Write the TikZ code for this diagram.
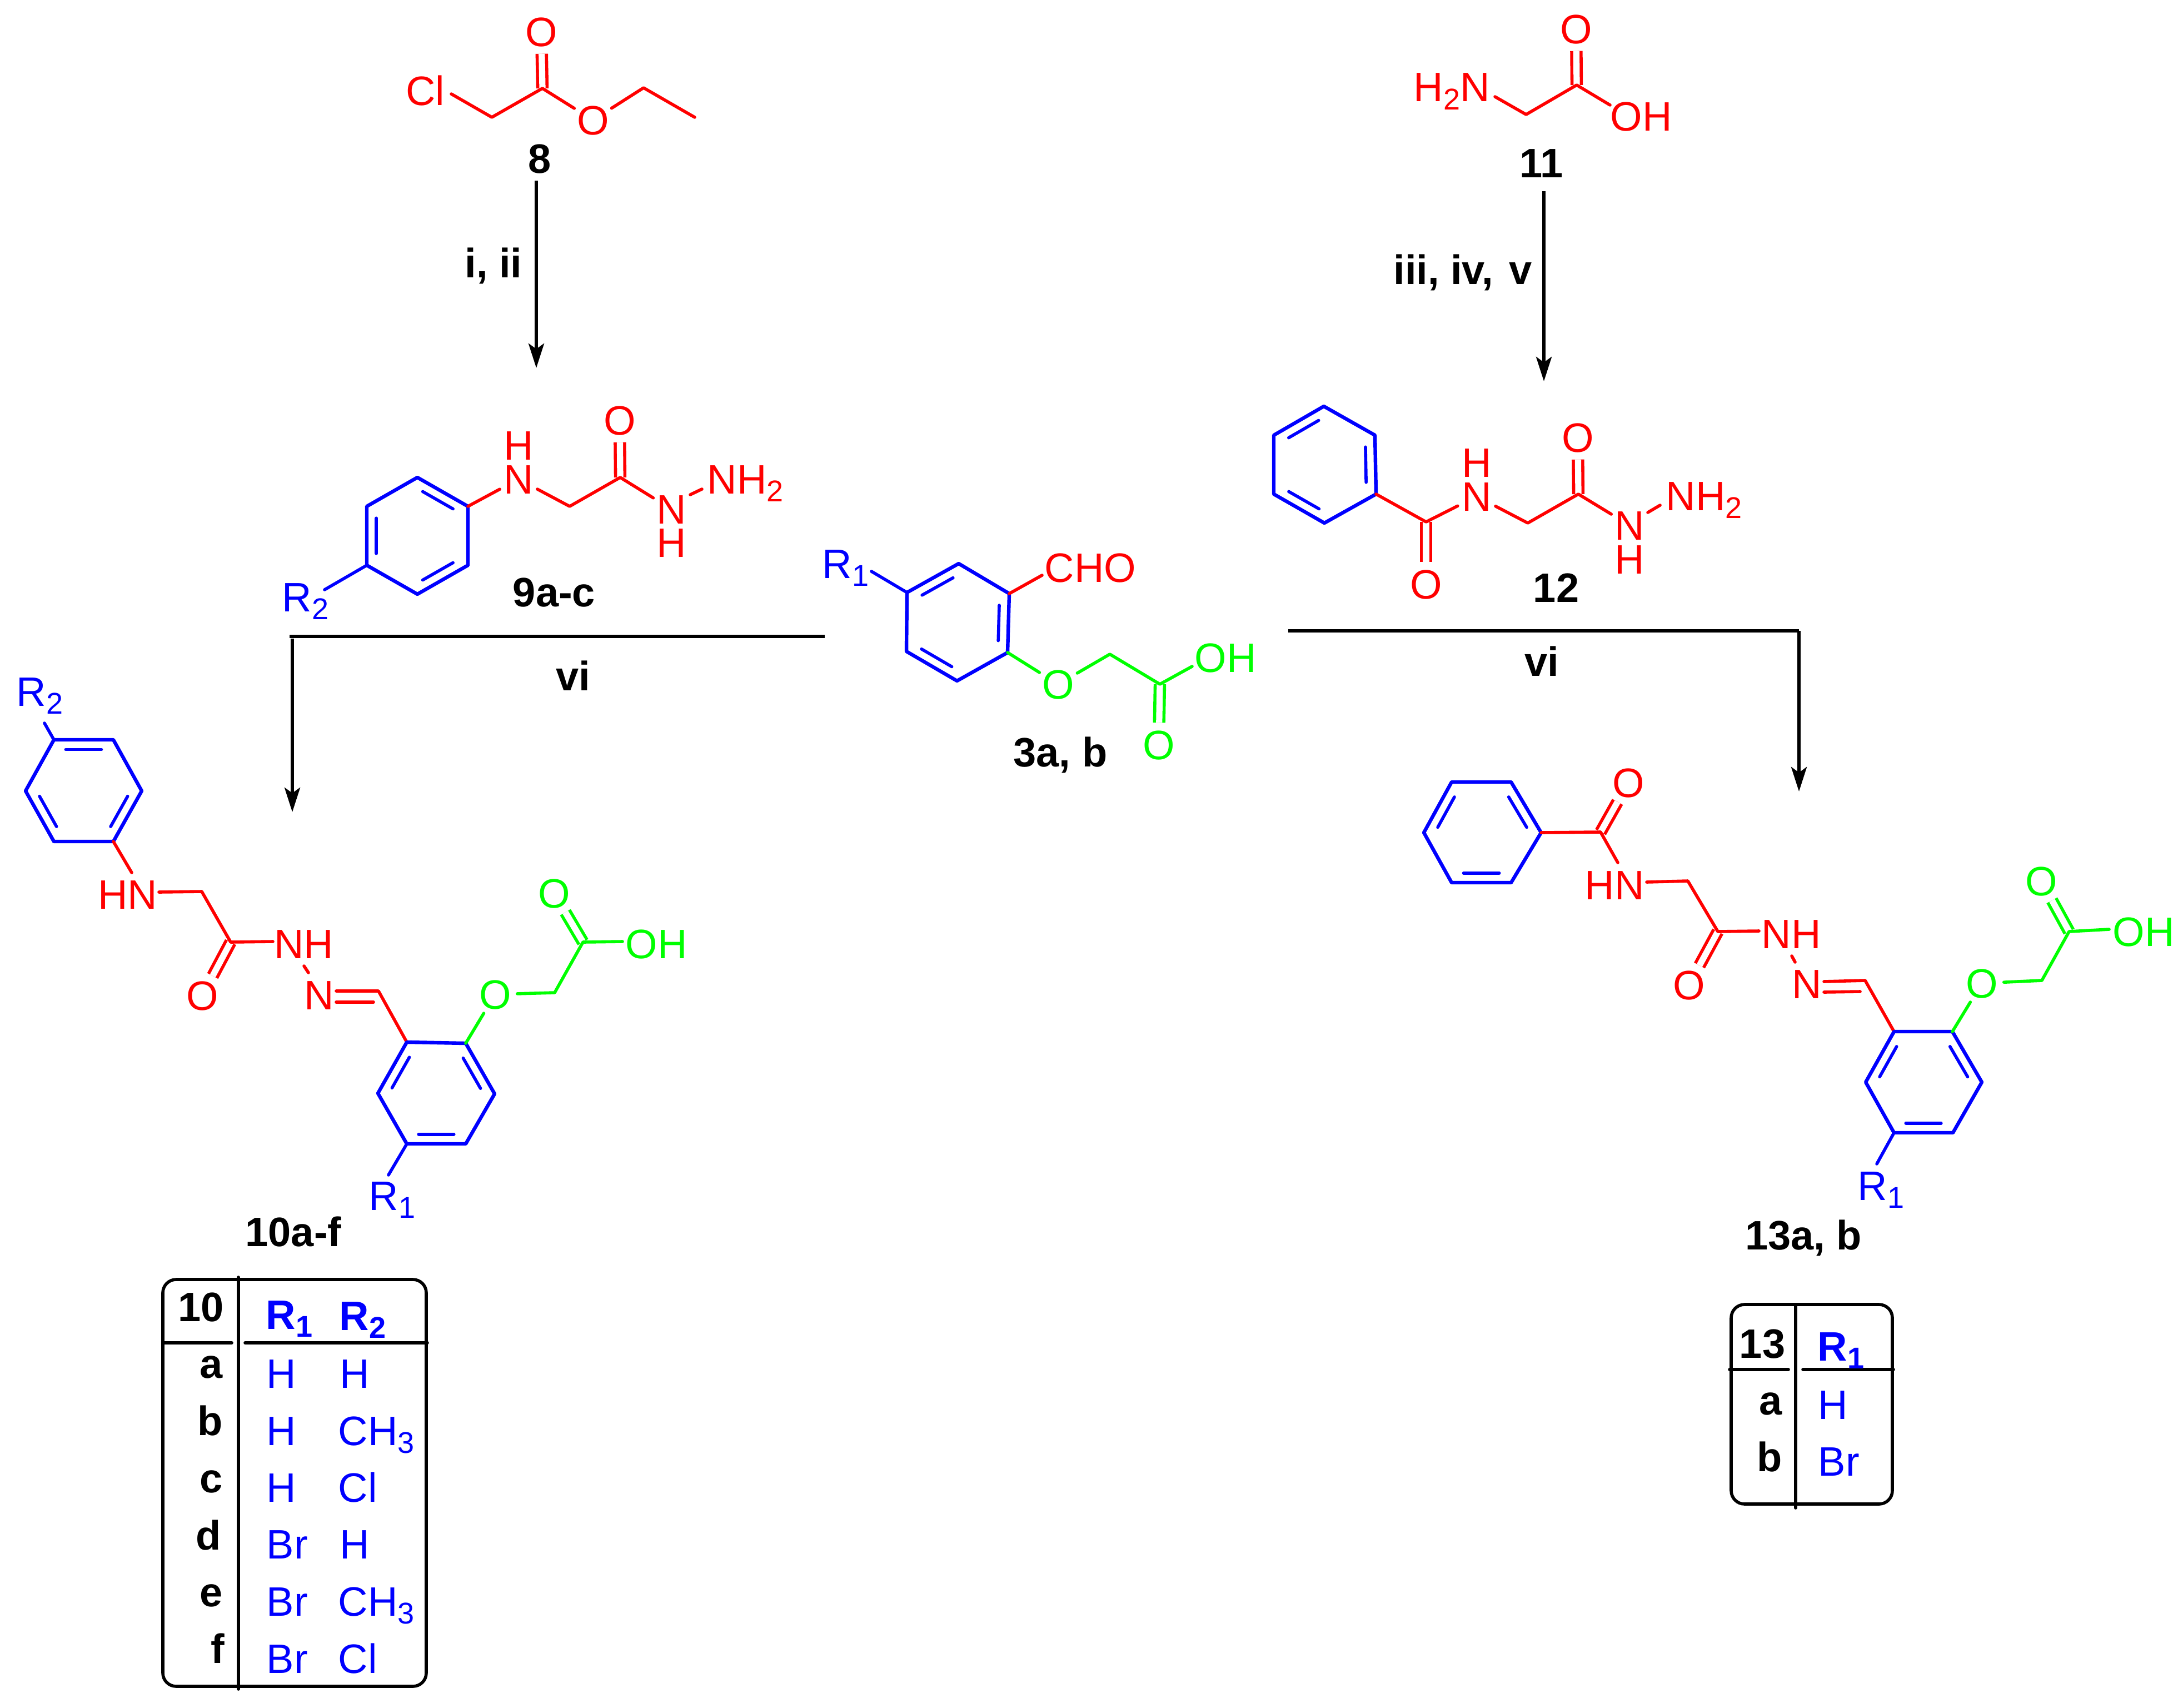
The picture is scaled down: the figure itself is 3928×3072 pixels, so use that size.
\documentclass[tikz,border=0pt]{standalone}
\usepackage{fontspec}
\setmainfont{Liberation Sans}
\usetikzlibrary{arrows.meta,calc}
\newcommand{\chemsub}[1]{\raisebox{-.2em}{\fontsize{13.5}{15}\selectfont #1}}
\newcommand{\ringin}[3]{\draw[innerbond] ($($(#1)!.13!(#2)$)!.19!(#3)$) -- ($($(#2)!.13!(#1)$)!.19!(#3)$);}
\tikzset{
	bond/.style={line width=1.4pt,line cap=round,line join=round},
	ringbond/.style={bond,blue,line width=1.6pt},
	innerbond/.style={bond,blue},
	dbl/.style={line width=1.4pt,double,double distance=2.8pt},
	react/.style={line width=1.4pt,-{Stealth[length=11pt,width=7pt,inset=2.5pt]}},
	plain/.style={line width=1.4pt},
	atom/.style={circle,inner sep=0pt,font=\fontsize{18.5}{22}\selectfont,text height=13.25pt,text depth=0pt},
	chem/.style={inner sep=0pt,font=\fontsize{18.5}{22}\selectfont,text height=13.25pt,text depth=0pt},
	tag/.style={inner sep=0pt,font=\fontsize{18.5}{22}\selectfont\bfseries,text height=13.25pt,text depth=0pt},
	basew/.style={anchor=base west,xshift=-1.25pt}
}
\begin{document}
\begin{tikzpicture}[x=.25pt,y=-.25pt]
	\useasboundingbox (0,0) rectangle (3928,3072);

	% 8
	\node[chem,red] (cl8) at (765,163) {Cl};
	\node[atom,red] (oa8) at (974,57) {O};
	\node[atom,red] (ob8) at (1067,216) {O};
	\coordinate (cl8b) at (812,169);
	\coordinate (ch8) at (885,211);
	\coordinate (c8) at (976,159);
	\coordinate (et8) at (1158,158);
	\coordinate (me8) at (1250,211);
	\draw[dbl,red] (c8) -- (oa8);
	\draw[bond,red] (cl8b) -- (ch8) -- (c8) -- (ob8) -- (et8) -- (me8);
	\node[tag] (n8) at (971,285) {8};
	\coordinate (ar8a) at (965,325);
	\coordinate (ar8b) at (965,662);
	\draw[react] (ar8a) -- (ar8b);
	\node[tag] (cond8) at (888,473) {i, ii};

	% 9a-c
	\draw[ringbond] (751,859) coordinate (a1) -- (842,911) coordinate (a2) -- (842,1017) coordinate (a3) -- (751,1069) coordinate (a4) -- (660,1017) coordinate (a5) -- (660,911) coordinate (a6) -- cycle;
	\coordinate (a0) at (751,964);
	\foreach \p/\q in {a1/a2,a3/a4,a5/a6} {\ringin{\p}{\q}{a0}}
	\node[chem,blue,basew] (r9) at (512,1100) {R\chemsub{2}};
	\coordinate (r9b) at (584,1061);
	\draw[bond,blue] (a5) -- (r9b);
	\node[atom,red] (h9a) at (933,801) {H};
	\node[atom,red] (n9a) at (933,862) {N};
	\node[atom,red] (o9) at (1115,756) {O};
	\node[atom,red] (n9b) at (1208,916) {N};
	\node[atom,red] (h9b) at (1208,976) {H};
	\node[chem,red,basew] (nh9) at (1277,888) {NH\chemsub{2}};
	\coordinate (ch9) at (1025,911);
	\coordinate (c9) at (1116,859);
	\coordinate (n9c) at (1242,890);
	\coordinate (n9d) at (1263,880);
	\draw[dbl,red] (c9) -- (o9);
	\draw[bond,red] (a2) -- (n9a) -- (ch9) -- (c9) -- (n9b);
	\draw[bond,red] (n9c) -- (n9d);
	\node[tag] (n9) at (997,1065) {9a-c};

	% 3a, b
	\draw[ringbond] (1725,1014) coordinate (b1) -- (1816,1068) coordinate (b2) -- (1813,1174) coordinate (b3) -- (1722,1225) coordinate (b4) -- (1631,1172) coordinate (b5) -- (1632,1066) coordinate (b6) -- cycle;
	\coordinate (b0) at (1723,1120);
	\foreach \p/\q in {b6/b1,b2/b3,b4/b5} {\ringin{\p}{\q}{b0}}
	\node[chem,blue,basew] (r3) at (1484,1040) {R\chemsub{1}};
	\coordinate (r3b) at (1568,1028);
	\draw[bond,blue] (b6) -- (r3b);
	\node[chem,red] (cho3) at (1962,1021) {CHO};
	\coordinate (cho3b) at (1875,1035);
	\draw[bond,red] (b2) -- (cho3b);
	\node[atom,green] (oa3) at (1904,1231) {O};
	\node[atom,green] (ob3) at (2085,1340) {O};
	\node[chem,green] (oh3) at (2205,1183) {OH};
	\coordinate (oh3b) at (2145,1199);
	\coordinate (ch3) at (1997,1177);
	\coordinate (c3) at (2087,1231);
	\draw[dbl,green] (c3) -- (ob3);
	\draw[bond,green] (b3) -- (oa3) -- (ch3) -- (c3) -- (oh3b);
	\node[tag] (n3) at (1908,1353) {3a, b};

	% 11
	\node[chem,red,basew] (nh11) at (2548,183) {H\chemsub{2}N};
	\node[atom,red] (o11) at (2836,52) {O};
	\node[chem,red] (oh11) at (2953,209) {OH};
	\coordinate (n11b) at (2690,174);
	\coordinate (ch11) at (2746,206);
	\coordinate (c11) at (2837,153);
	\coordinate (oh11b) at (2897,189);
	\draw[dbl,red] (c11) -- (o11);
	\draw[bond,red] (n11b) -- (ch11) -- (c11) -- (oh11b);
	\node[tag] (n11) at (2774,293) {11};
	\coordinate (ar11a) at (2778,344);
	\coordinate (ar11b) at (2778,686);
	\draw[react] (ar11a) -- (ar11b);
	\node[tag] (cond11) at (2632,485) {iii, iv,\hspace{.38em}v};

	% 12
	\draw[ringbond] (2382,731) coordinate (d1) -- (2474,783) coordinate (d2) -- (2476,889) coordinate (d3) -- (2383,941) coordinate (d4) -- (2292,889) coordinate (d5) -- (2292,783) coordinate (d6) -- cycle;
	\coordinate (d0) at (2383,836);
	\foreach \p/\q in {d6/d1,d2/d3,d4/d5} {\ringin{\p}{\q}{d0}}
	\node[atom,red] (oa12) at (2566,1051) {O};
	\node[atom,red] (n12a) at (2657,893) {N};
	\node[atom,red] (h12a) at (2657,832) {H};
	\node[atom,red] (ob12) at (2839,787) {O};
	\node[atom,red] (n12b) at (2932,945) {N};
	\node[atom,red] (h12b) at (2932,1006) {H};
	\node[chem,red,basew] (nh12) at (3002,918) {NH\chemsub{2}};
	\coordinate (ca12) at (2566,939);
	\coordinate (ch12) at (2749,941);
	\coordinate (cb12) at (2840,889);
	\coordinate (n12c) at (2965,922);
	\coordinate (n12d) at (2987,909);
	\draw[dbl,red] (ca12) -- (oa12);
	\draw[dbl,red] (cb12) -- (ob12);
	\draw[bond,red] (d3) -- (ca12) -- (n12a) -- (ch12) -- (cb12) -- (n12b);
	\draw[bond,red] (n12c) -- (n12d);
	\node[tag] (n12) at (2800,1057) {12};

	% vi, left
	\coordinate (la) at (521,1145);
	\coordinate (lb) at (1484,1145);
	\coordinate (lc) at (526,1149);
	\coordinate (ld) at (526,1461);
	\draw[plain] (la) -- (lb);
	\draw[react] (lc) -- (ld);
	\node[tag] (condl) at (1031,1216) {vi};

	% vi, right
	\coordinate (ra) at (2318,1135);
	\coordinate (rb) at (3237,1135);
	\coordinate (rc) at (3237,1424);
	\draw[plain] (ra) -- (rb);
	\draw[react] (rb) -- (rc);
	\node[tag] (condr) at (2774,1190) {vi};

	% 10a-f
	\draw[ringbond] (97,1331) coordinate (e1) -- (204,1331) coordinate (e2) -- (255,1423) coordinate (e3) -- (204,1514) coordinate (e4) -- (97,1514) coordinate (e5) -- (46,1423) coordinate (e6) -- cycle;
	\coordinate (e0) at (150,1423);
	\foreach \p/\q in {e1/e2,e3/e4,e5/e6} {\ringin{\p}{\q}{e0}}
	\node[chem,blue,basew] (r10b) at (34,1270) {R\chemsub{2}};
	\coordinate (r10bb) at (80,1301);
	\draw[bond,blue] (e1) -- (r10bb);
	\node[chem,red] (hn10) at (230,1609) {HN};
	\node[atom,red] (o10) at (364,1791) {O};
	\node[chem,red] (nh10) at (547,1698) {NH};
	\node[atom,red] (n10) at (574,1790) {N};
	\coordinate (hn10a) at (237,1570);
	\coordinate (hn10b) at (286,1605);
	\coordinate (ch10) at (363,1604);
	\coordinate (c10) at (415,1695);
	\coordinate (nh10b) at (491,1694);
	\coordinate (n10a) at (547,1738);
	\coordinate (n10b) at (555,1750);
	\coordinate (n10c) at (605,1783);
	\coordinate (n10d) at (605,1803);
	\coordinate (n10e) at (672,1803);
	\coordinate (im10) at (681,1783);
	\draw[dbl,red] (c10) -- (o10);
	\draw[bond,red] (e4) -- (hn10a);
	\draw[bond,red] (hn10b) -- (ch10) -- (c10) -- (nh10b);
	\draw[bond,red] (n10a) -- (n10b);
	\draw[bond,red] (n10d) -- (n10e);
	\draw[bond,red] (n10c) -- (im10) -- (732,1875);
	\draw[ringbond] (732,1875) coordinate (f1) -- (838,1877) coordinate (f2) -- (890,1968) coordinate (f3) -- (838,2058) coordinate (f4) -- (732,2058) coordinate (f5) -- (680,1967) coordinate (f6) -- cycle;
	\coordinate (f0) at (785,1967);
	\foreach \p/\q in {f1/f6,f2/f3,f4/f5} {\ringin{\p}{\q}{f0}}
	\node[chem,blue,basew] (r10a) at (668,2177) {R\chemsub{1}};
	\coordinate (r10ab) at (699,2114);
	\draw[bond,blue] (f5) -- (r10ab);
	\node[atom,green] (oa10) at (891,1789) {O};
	\node[atom,green] (ob10) at (997,1607) {O};
	\node[chem,green] (oh10) at (1181,1698) {OH};
	\coordinate (cg10) at (998,1786);
	\coordinate (cc10) at (1049,1695);
	\coordinate (oh10b) at (1120,1694);
	\draw[dbl,green] (cc10) -- (ob10);
	\draw[bond,green] (f2) -- (oa10) -- (cg10) -- (cc10) -- (oh10b);
	\node[tag] (n10) at (528,2216) {10a-f};

	% 13a, b
	\draw[ringbond] (2612,1407) coordinate (g1) -- (2719,1407) coordinate (g2) -- (2773,1498) coordinate (g3) -- (2719,1588) coordinate (g4) -- (2612,1588) coordinate (g5) -- (2562,1498) coordinate (g6) -- cycle;
	\coordinate (g0) at (2666,1498);
	\foreach \p/\q in {g1/g6,g2/g3,g4/g5} {\ringin{\p}{\q}{g0}}
	\node[atom,red] (o13a) at (2930,1408) {O};
	\node[chem,red] (hn13) at (2905,1592) {HN};
	\node[atom,red] (o13b) at (3039,1772) {O};
	\node[chem,red] (nh13) at (3223,1680) {NH};
	\node[atom,red] (n13) at (3251,1770) {N};
	\coordinate (c13a) at (2880,1497);
	\coordinate (hn13a) at (2911,1552);
	\coordinate (hn13b) at (2963,1587);
	\coordinate (ch13) at (3037,1585);
	\coordinate (c13b) at (3091,1676);
	\coordinate (nh13b) at (3165,1675);
	\coordinate (n13a) at (3224,1720);
	\coordinate (n13b) at (3230,1731);
	\coordinate (n13c) at (3282,1766);
	\coordinate (n13d) at (3282,1785);
	\coordinate (n13e) at (3347,1784);
	\coordinate (im13) at (3356,1764);
	\draw[dbl,red] (c13a) -- (o13a);
	\draw[dbl,red] (c13b) -- (o13b);
	\draw[bond,red] (g3) -- (c13a) -- (hn13a);
	\draw[bond,red] (hn13b) -- (ch13) -- (c13b) -- (nh13b);
	\draw[bond,red] (n13a) -- (n13b);
	\draw[bond,red] (n13d) -- (n13e);
	\draw[bond,red] (n13c) -- (im13) -- (3408,1856);
	\draw[ringbond] (3408,1856) coordinate (k1) -- (3513,1856) coordinate (k2) -- (3566,1947) coordinate (k3) -- (3514,2038) coordinate (k4) -- (3408,2038) coordinate (k5) -- (3357,1947) coordinate (k6) -- cycle;
	\coordinate (k0) at (3461,1947);
	\foreach \p/\q in {k1/k6,k2/k3,k4/k5} {\ringin{\p}{\q}{k0}}
	\node[chem,blue,basew] (r13) at (3347,2159) {R\chemsub{1}};
	\coordinate (r13b) at (3377,2094);
	\draw[bond,blue] (k5) -- (r13b);
	\node[atom,green] (oa13) at (3566,1769) {O};
	\node[atom,green] (ob13) at (3673,1585) {O};
	\node[chem,green] (oh13) at (3857,1676) {OH};
	\coordinate (cg13) at (3674,1764);
	\coordinate (cc13) at (3723,1676);
	\coordinate (oh13b) at (3795,1672);
	\draw[dbl,green] (cc13) -- (ob13);
	\draw[bond,green] (k2) -- (oa13) -- (cg13) -- (cc13) -- (oh13b);
	\node[tag] (n13t) at (3245,2222) {13a, b};

	% table 10
	\draw[plain,rounded corners=6pt] (293,2302) rectangle (767,3034);
	\coordinate (ta) at (429,2298);
	\coordinate (tb) at (429,3039);
	\coordinate (tc) at (296,2416);
	\coordinate (td) at (417,2416);
	\coordinate (te) at (441,2416);
	\coordinate (tf) at (769,2416);
	\draw[plain,line cap=round] (ta) -- (tb);
	\draw[plain,line cap=round] (tc) -- (td);
	\draw[plain,line cap=round] (te) -- (tf);
	\node[tag] (t10) at (362,2351) {10};
	\node[tag,blue,basew] (t10a) at (483,2391) {R\chemsub{1}};
	\node[tag,blue,basew] (t10b) at (615,2393) {R\chemsub{2}};
	\foreach \i/\xl/\yl/\yy/\cola/\colb/\xb in {a/401/2479/2497/H/H/616,b/401/2582/2600/H/CH\chemsub{3}/613,c/401/2685/2702/H/Cl/613,d/398/2788/2804/Br/H/616,e/401/2890/2907/Br/CH\chemsub{3}/613,f/405/2992/3010/Br/Cl/613} {
		\node[tag,anchor=base east] (row\i) at (\xl,\yl) {\i};
		\node[chem,blue,basew] (cola\i) at (484,\yy) {\cola};
		\node[chem,blue,basew] (colb\i) at (\xb,\yy) {\colb};
	}

	% table 13
	\draw[plain,rounded corners=6pt] (3115,2347) rectangle (3405,2706);
	\coordinate (ua) at (3231,2347);
	\coordinate (ub) at (3231,2713);
	\coordinate (uc) at (3112,2464);
	\coordinate (ud) at (3218,2464);
	\coordinate (ue) at (3244,2464);
	\coordinate (uf) at (3407,2464);
	\draw[plain,line cap=round] (ua) -- (ub);
	\draw[plain,line cap=round] (uc) -- (ud);
	\draw[plain,line cap=round] (ue) -- (uf);
	\node[tag] (t13) at (3171,2417) {13};
	\node[tag,blue,basew] (t13a) at (3275,2448) {R\chemsub{1}};
	\node[tag,anchor=base east] (rowa13) at (3207,2545) {a};
	\node[tag,anchor=base east] (rowb13) at (3207,2647) {b};
	\node[chem,blue,basew] (cola13) at (3276,2553) {H};
	\node[chem,blue,basew] (colb13) at (3276,2655) {Br};
\end{tikzpicture}
\end{document}
